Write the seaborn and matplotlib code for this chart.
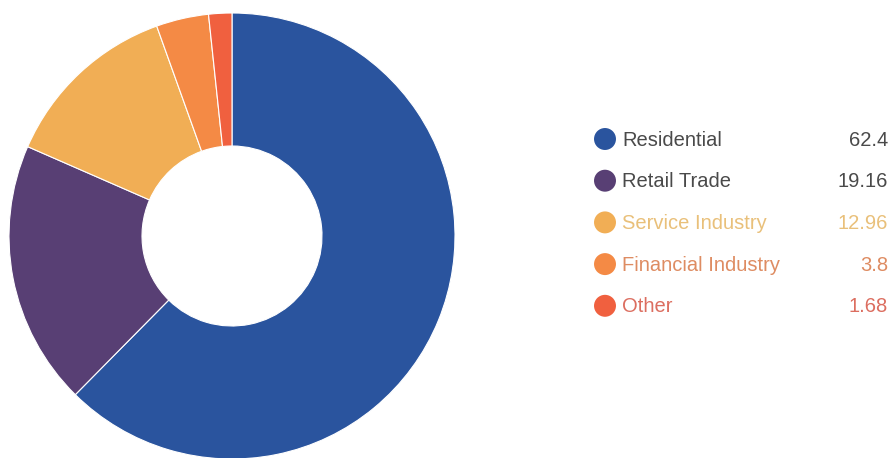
import matplotlib
matplotlib.use("Agg")
import matplotlib.pyplot as plt
import seaborn as sns
import pandas as pd

categories = ["Residential", "Retail Trade", "Service Industry", "Financial Industry", "Other"]
values = [62.4, 19.16, 12.96, 3.8, 1.68]
value_labels = ["62.4", "19.16", "12.96", "3.8", "1.68"]

slice_colors = ["#2a549e", "#583f74", "#f1ae55", "#f48a45", "#f0603f"]
text_colors = ["#4a4a4a", "#4a4a4a", "#e9c07a", "#de8c62", "#dc6e60"]

sns.set_theme(style="white")
plt.rcParams["font.family"] = ["Liberation Sans", "DejaVu Sans"]

W, H = 893, 458
fig = plt.figure(figsize=(W / 100, H / 100), dpi=100)
fig.patch.set_facecolor("white")

# donut: centre (232, 236) px, outer radius 223 px, hole radius 90 px
cx, cy, r = 232, 236, 223
ax = fig.add_axes([(cx - r) / W, (H - cy - r) / H, 2 * r / W, 2 * r / H])
ax.pie(values, colors=slice_colors, startangle=90, counterclock=False,
       radius=1.0, wedgeprops=dict(width=1 - 90 / 223, edgecolor="white", linewidth=0.8))
ax.set_xlim(-1, 1)
ax.set_ylim(-1, 1)
ax.set_aspect("equal")
ax.axis("off")

# legend panel in pixel coordinates
lax = fig.add_axes([0, 0, 1, 1])
lax.set_xlim(0, W)
lax.set_ylim(H, 0)
lax.axis("off")
lax.patch.set_alpha(0)

row0, step = 139, 41.7
legend_df = pd.DataFrame({
    "category": categories,
    "x": [605] * len(categories),
    "y": [row0 + step * i for i in range(len(categories))],
})
sns.scatterplot(data=legend_df, x="x", y="y", hue="category",
                palette=dict(zip(categories, slice_colors)),
                s=250, edgecolor="none", legend=False, ax=lax)
for i, (cat, lab) in enumerate(zip(categories, value_labels)):
    y = row0 + step * i
    lax.text(622, y + 1, cat, fontsize=14.5, color=text_colors[i], va="center", ha="left")
    lax.text(888, y + 1, lab, fontsize=14.5, color=text_colors[i], va="center", ha="right")

fig.savefig("out.png", dpi=100, facecolor="white")
